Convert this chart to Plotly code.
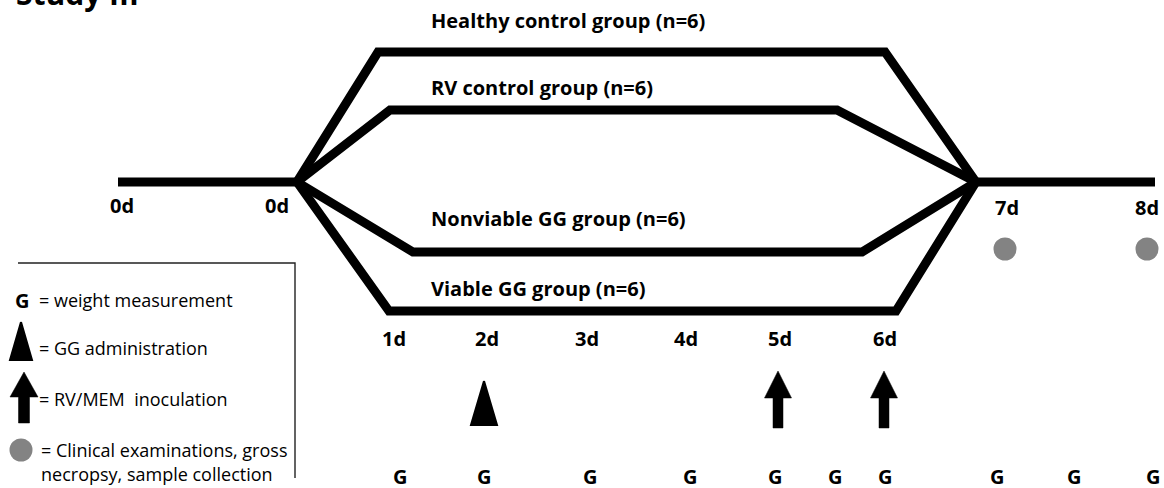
import plotly.graph_objects as go

# ---------------- data ----------------
title_text = "Study III"
group_names = ["Healthy control group (n=6)", "RV control group (n=6)",
               "Nonviable GG group (n=6)", "Viable GG group (n=6)"]
day_labels = ["0d", "0d", "1d", "2d", "3d", "4d", "5d", "6d", "7d", "8d"]
weight_marks = ["G"] * 10
gg_admin_days = ["2d"]
inoculation_days = ["5d", "6d"]
exam_days = ["7d", "8d"]
legend_texts = ["= weight measurement", "= GG administration",
                "= RV/MEM  inoculation", "= Clinical examinations, gross",
                "necropsy, sample collection"]

# ---------------- layout geometry (pixel frame) ----------------
W, H = 1164, 488
baseline_left = [118, 297]
baseline_right = [976, 1155]
baseline_y = 182
group_paths = {
    group_names[0]: ([297, 378, 885, 976], [182, 52, 52, 182]),
    group_names[1]: ([297, 390, 837, 976], [182, 110, 110, 182]),
    group_names[2]: ([297, 413, 862, 976], [182, 252, 252, 182]),
    group_names[3]: ([297, 389, 896, 976], [182, 311, 311, 182]),
}
group_label_pos = [(429, 20), (429, 87), (429, 218), (429, 288)]
day_label_x = [122, 277, 394, 487, 587, 686, 780, 885, 1007, 1147]
day_label_y = [205, 205, 338, 338, 338, 338, 338, 338, 207, 207]
g_x = [400, 484, 590, 690, 775, 835, 885, 997, 1074, 1153]
g_y = 476
event_x = {"2d": 484, "5d": 778, "6d": 884, "7d": 1005, "8d": 1147}

FONT = "Open Sans"
BLACK = "#000000"
GREY = "#838383"

fig = go.Figure()

for xs in (baseline_left, baseline_right):
    fig.add_trace(go.Scatter(x=xs, y=[baseline_y, baseline_y], mode="lines",
                             line=dict(color=BLACK, width=9), hoverinfo="skip"))
for name in group_names:
    xs, ys = group_paths[name]
    fig.add_trace(go.Scatter(x=xs, y=ys, mode="lines", name=name,
                             line=dict(color=BLACK, width=9), hoverinfo="skip"))


def triangle(cx, top, bottom, half):
    return [cx, cx + half, cx - half, cx], [top, bottom, bottom, top]


def arrow(cx, tip, head_base, bottom, head_half, shaft_half):
    xs = [cx, cx + head_half, cx + shaft_half, cx + shaft_half,
          cx - shaft_half, cx - shaft_half, cx - head_half, cx]
    ys = [tip, head_base, head_base, bottom, bottom, head_base, head_base, tip]
    return xs, ys


for d in gg_admin_days:
    tx, ty = triangle(event_x[d], 381, 425, 13)
    fig.add_trace(go.Scatter(x=tx, y=ty, mode="lines", fill="toself",
                             fillcolor=BLACK, line=dict(color=BLACK, width=2),
                             hoverinfo="skip"))
for d in inoculation_days:
    ax_, ay_ = arrow(event_x[d], 371, 398, 428, 13.5, 5)
    fig.add_trace(go.Scatter(x=ax_, y=ay_, mode="lines", fill="toself",
                             fillcolor=BLACK, line=dict(color=BLACK, width=0.5),
                             hoverinfo="skip"))
fig.add_trace(go.Scatter(x=[event_x[d] for d in exam_days], y=[249] * len(exam_days),
                         mode="markers", marker=dict(size=23, color=GREY),
                         hoverinfo="skip"))

# legend box
fig.add_trace(go.Scatter(x=[18, 295, 295], y=[263, 263, 478], mode="lines",
                         line=dict(color="#222222", width=1.4), hoverinfo="skip"))
ltx, lty = triangle(21, 322, 360, 11)
fig.add_trace(go.Scatter(x=ltx, y=lty, mode="lines", fill="toself", fillcolor=BLACK,
                         line=dict(color=BLACK, width=2), hoverinfo="skip"))
lax, lay = arrow(24, 372, 397, 423, 14, 5.5)
fig.add_trace(go.Scatter(x=lax, y=lay, mode="lines", fill="toself", fillcolor=BLACK,
                         line=dict(color=BLACK, width=0.5), hoverinfo="skip"))
fig.add_trace(go.Scatter(x=[21], y=[450], mode="markers",
                         marker=dict(size=23, color=GREY), hoverinfo="skip"))

ann = []


def txt(x, y, s, size, bold=True, xanchor="center", yanchor="middle"):
    ann.append(dict(x=x, y=y, xref="x", yref="y", text=(f"<b>{s}</b>" if bold else s),
                    showarrow=False, xanchor=xanchor, yanchor=yanchor,
                    font=dict(family=FONT, size=size, color=BLACK)))


txt(14, 16, title_text, 30, xanchor="left", yanchor="bottom")
for name, (lx, ly) in zip(group_names, group_label_pos):
    txt(lx, ly, name, 20, xanchor="left")
for lab, lx, ly in zip(day_labels, day_label_x, day_label_y):
    txt(lx, ly, lab, 20)
for gx, g in zip(g_x, weight_marks):
    txt(gx, g_y, g, 20)
txt(22, 300, "G", 20)
legend_pos = [(37, 300), (37, 348), (37, 399), (39, 450), (39, 474)]
for (lx, ly), s in zip(legend_pos, legend_texts):
    txt(lx, ly, s, 18, bold=False, xanchor="left")

fig.update_layout(
    width=W, height=H, margin=dict(l=0, r=0, t=0, b=0),
    paper_bgcolor="white", plot_bgcolor="white", showlegend=False,
    annotations=ann,
    xaxis=dict(range=[0, W], visible=False, fixedrange=True),
    yaxis=dict(range=[H, 0], visible=False, fixedrange=True),
)
fig.write_html("out.html", config={"displayModeBar": False},
               post_script="document.body.style.margin='0';document.body.style.overflow='hidden';")
